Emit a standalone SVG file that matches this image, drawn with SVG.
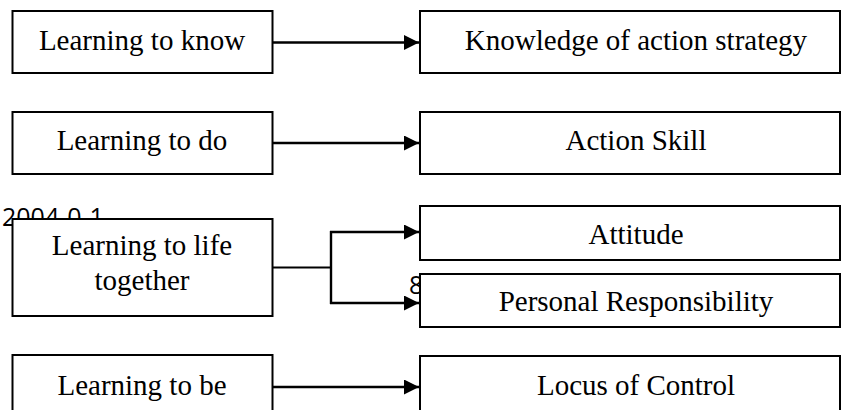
<svg xmlns="http://www.w3.org/2000/svg" width="841" height="410" viewBox="0 0 841 410">
<style>
.box{fill:#fff;stroke:#000;stroke-width:2}
.lbl{font-family:"Liberation Serif","Times New Roman",serif;font-size:29px;fill:#000;text-anchor:middle}
.stray{font-family:"Open Sans","Liberation Sans",sans-serif;font-size:25px;fill:#000}
.conn{fill:none;stroke:#000;stroke-width:2.4}
</style>
<defs>
<marker id="arr" markerUnits="userSpaceOnUse" markerWidth="16" markerHeight="16" refX="15" refY="7.5" orient="auto">
<path d="M0,0 L15,7.5 L0,15 Z" fill="#000"/>
</marker>
</defs>
<rect x="0" y="0" width="841" height="410" fill="#fff"/>
<text class="stray" x="2" y="226">2004-0-1</text>
<text class="stray" x="409" y="294">8</text>
<g id="connectors">
<line class="conn" x1="272" y1="42.5" x2="419" y2="42.5" marker-end="url(#arr)"/>
<line class="conn" x1="272" y1="143" x2="419" y2="143" marker-end="url(#arr)"/>
<line class="conn" x1="272" y1="267.5" x2="331" y2="267.5" style="stroke-width:1.8"/>
<line class="conn" x1="331" y1="231" x2="331" y2="304"/>
<line class="conn" x1="330" y1="232" x2="419" y2="232" marker-end="url(#arr)"/>
<line class="conn" x1="330" y1="303" x2="419" y2="303" marker-end="url(#arr)"/>
<line class="conn" x1="272" y1="387" x2="419" y2="387" marker-end="url(#arr)"/>
</g>
<g id="know">
<rect class="box" x="12.5" y="11" width="260" height="62"/>
<text class="lbl" x="142" y="50">Learning to know</text>
</g>
<g id="do">
<rect class="box" x="12.5" y="112" width="260" height="62"/>
<text class="lbl" x="142" y="149.5">Learning to do</text>
</g>
<g id="together">
<rect class="box" x="12.5" y="219" width="260" height="97"/>
<text class="lbl" x="142" y="255">Learning to life</text>
<text class="lbl" x="142" y="289.5">together</text>
</g>
<g id="be">
<rect class="box" x="12.5" y="355" width="260" height="70"/>
<text class="lbl" x="142" y="394.5">Learning to be</text>
</g>
<g id="knowledge">
<rect class="box" x="420" y="11" width="420" height="62"/>
<text class="lbl" x="636" y="49.5">Knowledge of action strategy</text>
</g>
<g id="skill">
<rect class="box" x="420" y="112" width="420" height="62"/>
<text class="lbl" x="636" y="149.5">Action Skill</text>
</g>
<g id="attitude">
<rect class="box" x="420" y="206" width="420" height="54"/>
<text class="lbl" x="636" y="244">Attitude</text>
</g>
<g id="responsibility">
<rect class="box" x="420" y="274" width="420" height="53"/>
<text class="lbl" x="636" y="310.5">Personal Responsibility</text>
</g>
<g id="locus">
<rect class="box" x="420" y="356" width="420" height="70"/>
<text class="lbl" x="636" y="395">Locus of Control</text>
</g>
</svg>
